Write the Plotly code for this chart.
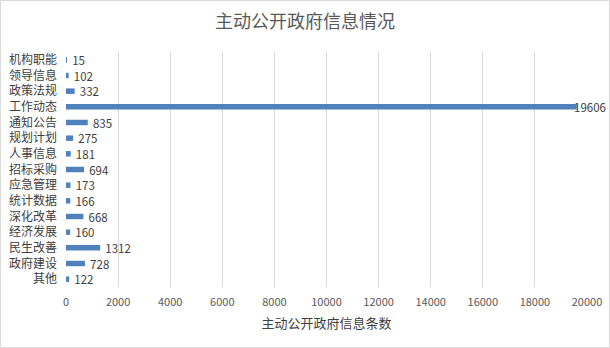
import plotly.graph_objects as go

categories = ["机构职能", "领导信息", "政策法规", "工作动态", "通知公告", "规划计划", "人事信息",
              "招标采购", "应急管理", "统计数据", "深化改革", "经济发展", "民生改善", "政府建设", "其他"]
values = [15, 102, 332, 19606, 835, 275, 181, 694, 173, 166, 668, 160, 1312, 728, 122]
x_ticks = list(range(0, 20001, 2000))

W, H = 610, 348
ml, mr, mt, mb = 66, 23, 52, 61
pw, ph = W - ml - mr, H - mt - mb

font_cjk = "Noto Sans CJK SC, Microsoft YaHei, sans-serif"
vmax = max(values)
imax = values.index(vmax)

fig = go.Figure(go.Bar(
    y=categories, x=values, orientation="h",
    marker=dict(color="#4f81bd", line=dict(width=0)),
    text=["" if v == vmax else "  " + str(v) for v in values], textposition="outside", constraintext="none",
    textfont=dict(size=11.5, color="#404040", family=font_cjk),
    cliponaxis=False,
))

fig.add_annotation(x=vmax, y=categories[imax], xref="x", yref="y", text=str(vmax),
                   showarrow=False, xanchor="left", xshift=-5,
                   font=dict(size=11.5, color="#404040", family=font_cjk))

fig.update_layout(
    width=W, height=H,
    margin=dict(l=ml, r=mr, t=mt, b=mb, autoexpand=False),
    paper_bgcolor="white", plot_bgcolor="white",
    bargap=0.65,
    showlegend=False,
    title=dict(text="主动公开政府信息情况", x=0.5, xanchor="center", y=1 - 22 / H, yanchor="middle",
               font=dict(size=18, color="#595959", family=font_cjk)),
    xaxis=dict(range=[0, 20000], tickvals=x_ticks, ticktext=[str(t) for t in x_ticks],
               showgrid=True, gridcolor="#d9d9d9", gridwidth=1,
               zeroline=False, showline=False, ticks="", automargin=False, ticklabelstandoff=7,
               tickfont=dict(size=11, color="#595959", family=font_cjk),
               title=dict(text="主动公开政府信息条数", font=dict(size=13, color="#404040", family=font_cjk),
                          standoff=10)),
    yaxis=dict(autorange="reversed", showgrid=False, zeroline=False, showline=False, ticks="",
               automargin=False,
               tickfont=dict(size=12, color="#404040", family=font_cjk), ticksuffix="   "),
    shapes=[dict(type="rect", xref="paper", yref="paper",
                 x0=-(ml - 0.5) / pw, x1=1 + (mr - 0.5) / pw,
                 y0=-(mb - 0.5) / ph, y1=1 + (mt - 0.5) / ph,
                 line=dict(color="#d9d9d9", width=1), layer="below")],
)

fig.write_html("out.html", config={"displayModeBar": False},
               post_script="document.body.style.margin='0';document.body.style.overflow='hidden';")
